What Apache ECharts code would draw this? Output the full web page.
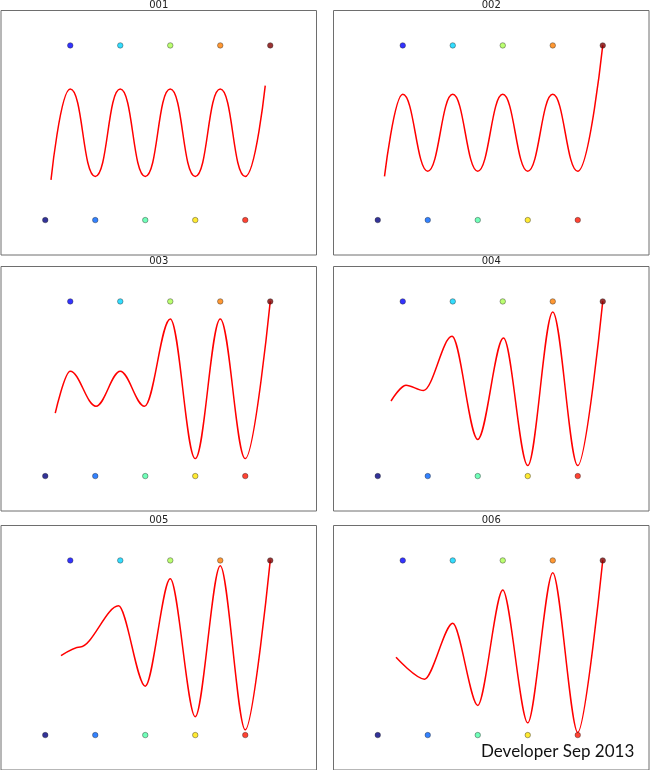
<!DOCTYPE html>
<html>
<head>
<meta charset="utf-8">
<script src="https://cdn.jsdelivr.net/npm/echarts@6/dist/echarts.min.js"></script>
<style>
html,body{margin:0;padding:0;background:#fff;}
#chart{width:650px;height:770px;}
</style>
</head>
<body>
<div id="chart"></div>
<script>
// ---- data ----
const panelTitles = ['001', '002', '003', '004', '005', '006'];
const pointX = [0, 1, 2, 3, 4, 5, 6, 7, 8, 9];
const pointY = [0, 1, 0, 1, 0, 1, 0, 1, 0, 1];
const pointColors = ['#000080', '#0000ff', '#0063ff', '#00d4ff', '#4dffa8',
                     '#aaff4d', '#ffe500', '#ff7e00', '#ff1400', '#800000'];

const curve001 = [[0.23, 0.23], [1, 0.75], [2, 0.25], [3, 0.75], [4, 0.25], [5, 0.75],
                  [6, 0.25], [7, 0.75], [8, 0.25], [8.8, 0.77]];
const curve002 = [[0.27, 0.25], [1, 0.72], [2, 0.28], [3, 0.72], [4, 0.28], [5, 0.72],
                  [6, 0.28], [7, 0.72], [8, 0.28], [9, 1.0]];
const curve003 = [[0.4, 0.36], [1, 0.60], [2.03, 0.40], [3, 0.60], [3.97, 0.40], [5, 0.90],
                  [6, 0.10], [7, 0.90], [8, 0.10], [9, 1.0]];
const curve004 = [[0.53, 0.43], [1.13, 0.52], [1.83, 0.49], [2.97, 0.80], [4, 0.21],
                  [5.03, 0.79], [6, 0.06], [7, 0.94], [8, 0.06], [9, 1.0]];
const curve005 = [[0.63, 0.455], [1.4, 0.505], [2.93, 0.74], [4, 0.28], [5, 0.895],
                  [6, 0.105], [7, 0.97], [8, 0.03], [9, 1.0]];
const curve006 = [[0.73, 0.445], [1.87, 0.32], [3, 0.64], [4, 0.17], [5, 0.83],
                  [6, 0.07], [7, 0.93], [8, 0.015], [9, 1.0]];
const curves = [curve001, curve002, curve003, curve004, curve005, curve006];

const watermark = 'Developer Sep 2013';

// ---- layout / style ----
const colLeft = [1, 333.5];
const rowTop = [10.5, 266.5, 525.5];
const panelW = 315.5;
const panelH = 244.5;
const xMin = -1.77, xMax = 10.85, yMin = -0.2, yMax = 1.2;
const curveSmooth = [0.5, 0.45, 0.36, 0.33, 0.31, 0.29];

const grids = [], xAxes = [], yAxes = [], series = [], graphics = [];
for (let p = 0; p < 6; p++) {
  const c = p % 2, r = Math.floor(p / 2);
  grids.push({
    left: colLeft[c], top: rowTop[r], width: panelW, height: panelH,
    show: true, borderColor: '#6e6e6e', borderWidth: 1, backgroundColor: '#fff'
  });
  xAxes.push({ type: 'value', gridIndex: p, min: xMin, max: xMax, show: false });
  yAxes.push({ type: 'value', gridIndex: p, min: yMin, max: yMax, show: false });
  series.push({
    type: 'line', xAxisIndex: p, yAxisIndex: p, data: curves[p],
    smooth: curveSmooth[p], smoothMonotone: 'x', showSymbol: false, symbol: 'none',
    lineStyle: { color: '#ff0000', width: 1.5 }, z: 2, silent: true, animation: false
  });
  series.push({
    type: 'scatter', xAxisIndex: p, yAxisIndex: p,
    data: pointX.map((x, i) => ({ value: [x, pointY[i]], itemStyle: { color: pointColors[i] } })),
    symbolSize: 5.5, itemStyle: { borderColor: '#222', borderWidth: 0.5 },
    z: 3, silent: true, animation: false
  });
  graphics.push({
    type: 'text', x: colLeft[c] + panelW / 2, y: rowTop[r] - 5.5,
    style: { text: panelTitles[p], textAlign: 'center', textVerticalAlign: 'middle',
             font: '10px "DejaVu Sans"', fill: '#222' }
  });
}
graphics.push({
  type: 'text', x: 481, y: 752,
  style: { text: watermark, textAlign: 'left', textVerticalAlign: 'middle',
           font: '17px Lato', fill: '#111' },
  z: 10
});

const chart = echarts.init(document.getElementById('chart'), null, { renderer: 'canvas' });
chart.setOption({
  animation: false,
  backgroundColor: '#fff',
  grid: grids, xAxis: xAxes, yAxis: yAxes, series: series, graphic: graphics
});
</script>
</body>
</html>
